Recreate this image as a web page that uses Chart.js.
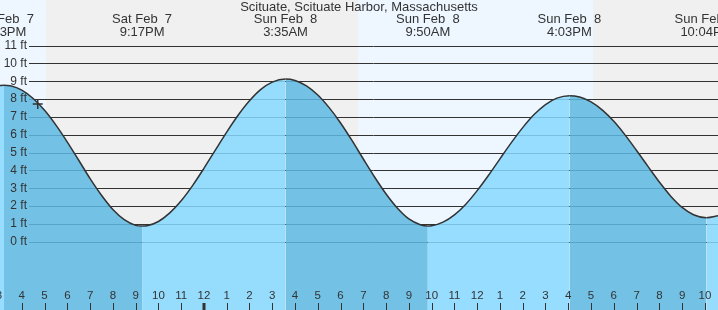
<!DOCTYPE html>
<html><head><meta charset="utf-8">
<script src="https://cdn.jsdelivr.net/npm/chart.js@4.4.1/dist/chart.umd.min.js"></script>
<style>html,body{margin:0;padding:0;background:#fff;overflow:hidden}canvas{display:block}</style>
</head><body>
<canvas id="c" width="718" height="310"></canvas>
<script>
// Time is in hours since Sat Feb 7, 00:00
const chartTitle = 'Scituate, Scituate Harbor, Massachusetts';
const tideTimes = [15.0, 15.217, 15.5, 16.0, 16.5, 17.0, 17.5, 18.0, 18.5, 19.0, 19.5, 20.0, 20.5, 21.0,
  21.283, 21.5, 22.0, 22.5, 23.0, 23.5, 24.0, 24.5, 25.0, 25.5, 26.0, 26.5, 27.0,
  27.583, 28.0, 28.5, 29.0, 29.5, 30.0, 30.5, 31.0, 31.5, 32.0, 32.5, 33.0, 33.5,
  33.833, 34.0, 34.5, 35.0, 35.5, 36.0, 36.5, 37.0, 37.5, 38.0, 38.5, 39.0, 39.5,
  40.05, 40.5, 41.0, 41.5, 42.0, 42.5, 43.0, 43.5, 44.0, 44.5, 45.0, 45.5,
  46.067, 46.6];
const tideHeights = [8.75, 8.78, 8.74, 8.50, 8.03, 7.37, 6.54, 5.59, 4.57, 3.54, 2.61, 1.81, 1.24, 0.92,
  0.88, 0.90, 1.14, 1.62, 2.30, 3.15, 4.12, 5.14, 6.15, 7.09, 7.90, 8.54, 8.95,
  9.12, 9.04, 8.74, 8.23, 7.52, 6.66, 5.68, 4.64, 3.62, 2.68, 1.88, 1.28, 0.96,
  0.89, 0.90, 1.10, 1.51, 2.11, 2.87, 3.73, 4.65, 5.56, 6.40, 7.13, 7.69, 8.05,
  8.19, 8.11, 7.84, 7.38, 6.75, 5.98, 5.12, 4.23, 3.35, 2.56, 1.93, 1.52,
  1.35, 1.46];
const eventTimes = [15.217, 21.283, 27.583, 33.833, 40.05, 46.067];
const eventDays = ['Sat Feb  7', 'Sat Feb  7', 'Sun Feb  8', 'Sun Feb  8', 'Sun Feb  8', 'Sun Feb  8'];
const eventClock = ['3:13PM', '9:17PM', '3:35AM', '9:50AM', '4:03PM', '10:04PM'];
const nowTime = [16.70];
const nowHeight = [7.72];
const nightStarts = [17.07, 41.08];
const nightEnds = [30.77, 48];
const gridFeet = [0,1,2,3,4,5,6,7,8,9,10,11];
const gridLabels = ['0 ft','1 ft','2 ft','3 ft','4 ft','5 ft','6 ft','7 ft','8 ft','9 ft','10 ft','11 ft'];
const hourTicks = [15,16,17,18,19,20,21,22,23,24,25,26,27,28,29,30,31,32,33,34,35,36,37,38,39,40,41,42,43,44,45,46];
const hourLabels = ['3','4','5','6','7','8','9','10','11','12','1','2','3','4','5','6','7','8','9','10','11','12','1','2','3','4','5','6','7','8','9','10'];
const midnightTicks = [24];

const FONT = '"Liberation Sans", Arial, sans-serif';
const TXT = '#333';

const decor = {
  id: 'decor',
  beforeDraw(chart) {
    const {ctx, scales: {x}} = chart;
    ctx.save();
    ctx.fillStyle = '#eef7ff';
    ctx.fillRect(0, 0, chart.width, chart.height);
    ctx.fillStyle = '#f0f0f0';
    nightStarts.forEach((s, i) => {
      const x0 = Math.round(x.getPixelForValue(s));
      const x1 = Math.round(x.getPixelForValue(nightEnds[i]));
      ctx.fillRect(x0, 0, x1 - x0, chart.height);
    });
    ctx.restore();
  },
  beforeDatasetsDraw(chart) {
    const {ctx, scales: {y}} = chart;
    ctx.save();
    ctx.strokeStyle = '#333';
    ctx.lineWidth = 1;
    gridFeet.forEach(v => {
      const yy = Math.round(y.getPixelForValue(v)) + 0.5;
      ctx.beginPath(); ctx.moveTo(29, yy); ctx.lineTo(chart.width, yy); ctx.stroke();
    });
    ctx.restore();
  },
  afterDraw(chart) {
    const {ctx, scales: {x, y}} = chart;
    ctx.save();
    ctx.fillStyle = TXT;
    ctx.textBaseline = 'middle';
    ctx.font = '12px ' + FONT;
    ctx.textAlign = 'right';
    gridFeet.forEach((v, i) => ctx.fillText(gridLabels[i], 27, y.getPixelForValue(v)));
    ctx.textAlign = 'center';
    ctx.strokeStyle = TXT;
    ctx.font = '11.5px ' + FONT;
    hourTicks.forEach((h, i) => {
      const px = x.getPixelForValue(h);
      ctx.fillText(hourLabels[i], px, 296);
      const thick = midnightTicks.includes(h);
      ctx.lineWidth = thick ? 3 : 1;
      const xx = thick ? Math.round(px) : Math.round(px) + 0.5;
      ctx.beginPath(); ctx.moveTo(xx, 303); ctx.lineTo(xx, 310); ctx.stroke();
    });
    ctx.font = '13px ' + FONT;
    ctx.fillText(chartTitle, chart.width / 2, 7.5);
    eventTimes.forEach((t, i) => {
      const px = x.getPixelForValue(t);
      ctx.fillText(eventDays[i], px, 19.5);
      ctx.fillText(eventClock[i], px, 32);
    });
    ctx.restore();
  }
};

const LIGHT = 'rgba(134,216,255,0.85)';
const DARK = 'rgba(93,184,226,0.85)';

new Chart(document.getElementById('c'), {
  type: 'line',
  data: {
    datasets: [
      {
        data: tideTimes.map((t, i) => ({x: t, y: tideHeights[i]})),
        borderColor: '#333',
        borderWidth: 1.5,
        pointRadius: 0,
        fill: 'start',
        backgroundColor: LIGHT,
        cubicInterpolationMode: 'monotone',
        segment: {
          backgroundColor: c => (c.p1.parsed.y < c.p0.parsed.y ? DARK : LIGHT)
        },
        order: 2
      },
      {
        type: 'scatter',
        data: nowTime.map((t, i) => ({x: t, y: nowHeight[i]})),
        pointStyle: 'cross',
        pointRadius: 5,
        borderColor: '#333',
        borderWidth: 1.5,
        backgroundColor: '#333',
        order: 1
      }
    ]
  },
  options: {
    responsive: false,
    animation: false,
    events: [],
    layout: {padding: 0, autoPadding: false},
    plugins: {legend: {display: false}, tooltip: {enabled: false}},
    scales: {
      x: {type: 'linear', min: 15.043, max: 46.576, display: false},
      y: {type: 'linear', min: -3.82, max: 13.55, display: false}
    }
  },
  plugins: [decor]
});
</script>
</body></html>
